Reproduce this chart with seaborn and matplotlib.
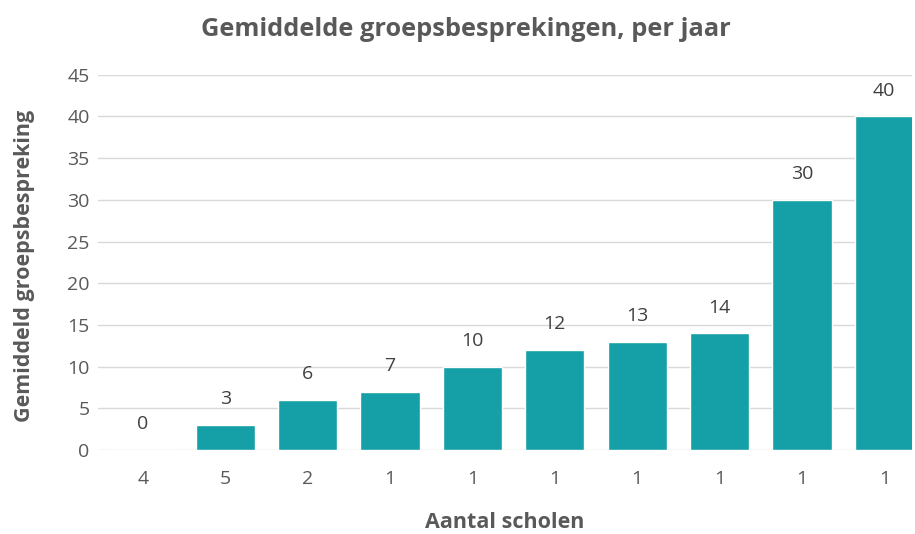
import numpy as np
import pandas as pd
import matplotlib
matplotlib.use("Agg")
import matplotlib.pyplot as plt
import seaborn as sns

# data
school_counts = ['4', '5', '2', '1', '1', '1', '1', '1', '1', '1']
avg_meetings = [0, 3, 6, 7, 10, 12, 13, 14, 30, 40]

sns.set_theme(style="white")
plt.rcParams['font.family'] = ['Open Sans', 'DejaVu Sans']

grey = '#595959'
teal = '#14A0A6'

df = pd.DataFrame({
    'pos': np.arange(len(avg_meetings)),
    'value': avg_meetings,
})

fig = plt.figure(figsize=(9.15, 5.34), dpi=100)
ax = fig.add_axes([0.107, 0.157, 0.89, 0.703])

sns.barplot(data=df, x='pos', y='value', color=teal, width=0.72,
            saturation=1, ax=ax, native_scale=True, zorder=3)

for i, v in enumerate(avg_meetings):
    ax.annotate(f"{v}", (i, v), xytext=(0, 12), textcoords='offset points',
                ha='center', va='bottom', fontsize=14, color='#404040')

ax.set_ylim(0, 45)
ax.set_yticks(np.arange(0, 46, 5))
ax.set_xlim(-0.547, 9.34)
ax.set_xticks(df['pos'])
ax.set_xticklabels(school_counts)
ax.yaxis.grid(True, color='#d9d9d9', linewidth=1, zorder=0)
ax.tick_params(axis='both', length=0, labelsize=14, colors=grey)
ax.tick_params(axis='x', pad=14)
ax.tick_params(axis='y', pad=6)
for s in ax.spines.values():
    s.set_visible(False)

ax.set_xlabel('Aantal scholen', fontsize=15.5, fontweight='bold', color=grey)
ax.xaxis.label.set_va('center')
ax.xaxis.set_label_coords(0.5, -0.192)
ax.set_ylabel('Gemiddeld groepsbespreking', fontsize=15.5, fontweight='bold', color=grey)
ax.yaxis.label.set_va('center')
ax.yaxis.set_label_coords(-0.09, 0.49)

fig.text(0.509, 0.944, 'Gemiddelde groepsbesprekingen, per jaar', fontsize=18.3,
         fontweight='bold', color=grey, ha='center', va='center')

fig.savefig('out.png', dpi=100)
